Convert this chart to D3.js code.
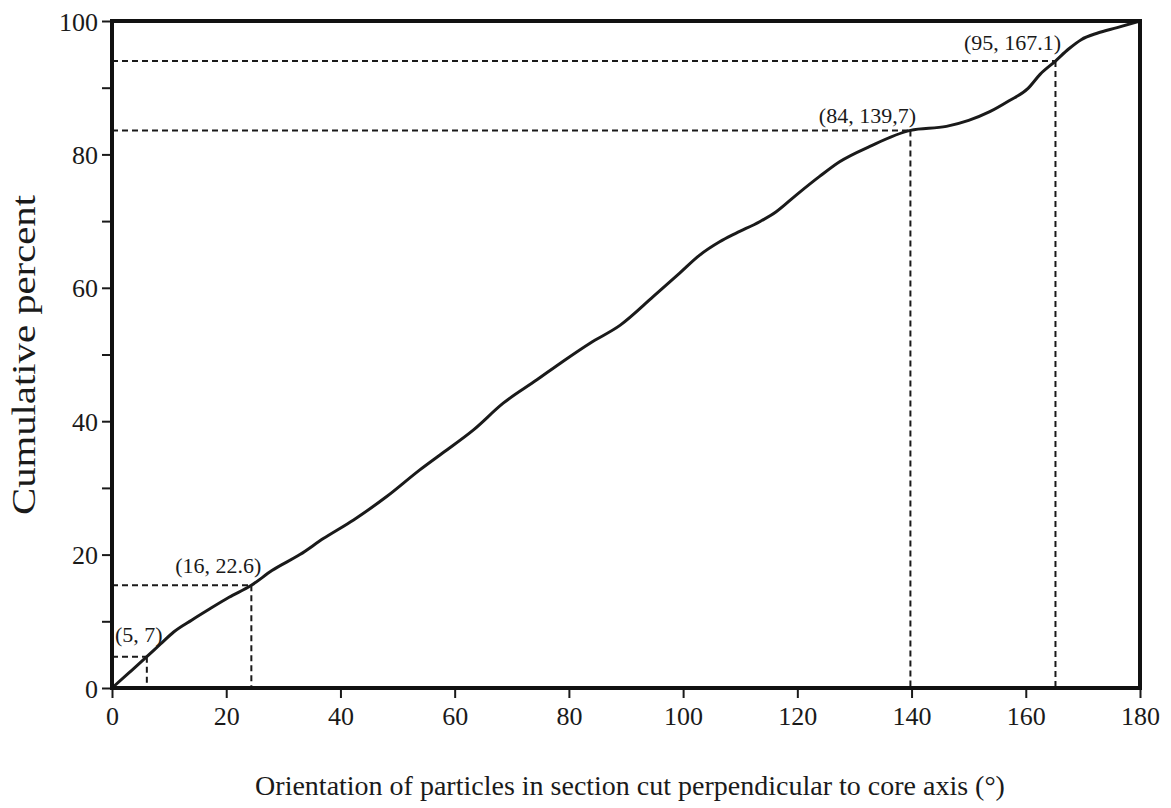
<!DOCTYPE html>
<html>
<head>
<meta charset="utf-8">
<script src="https://cdn.jsdelivr.net/npm/d3@7"></script>
<style>
  body { margin: 0; background: #fff; }
  text { font-family: "Liberation Serif", "Times New Roman", serif; fill: #1a1a1a; }
</style>
</head>
<body>
<svg id="chart"></svg>
<script>
// orientation (deg) vs cumulative percent
var angle = [0, 3, 6.1, 8.5, 10.8, 14, 17, 20.5, 24.4, 28, 32.9, 37, 42.3, 48.1, 53.9, 58, 63.3, 68.5, 74.4, 79, 83.7, 89,
             94.8, 99.4, 102.9, 106.4, 109.3, 113.4, 116.3, 119.8, 123.9, 127.4, 132.7, 139.8, 146.1, 150, 153.7, 157,
             160.4, 162.5, 165.2, 167.5, 169.7, 172.6, 176, 180];
var cumPct = [0, 2.3, 4.7, 6.6, 8.4, 10.2, 11.8, 13.6, 15.4, 17.6, 20.0, 22.4, 25.2, 28.7, 32.7, 35.3, 38.7, 42.7, 46.2, 49, 51.7, 54.4,
              58.7, 62.2, 64.9, 66.9, 68.2, 69.9, 71.4, 73.9, 76.7, 78.9, 81.2, 83.6, 84.2, 85.1, 86.4, 88.0,
              89.9, 92, 94.0, 95.8, 97.2, 98.2, 99, 100];

// marked percentiles
var markX = [6.1, 24.4, 139.8, 165.2];
var markY = [4.7, 15.4, 83.6, 94.0];
var markLabels = ["(5, 7)", "(16, 22.6)", "(84, 139,7)", "(95, 167.1)"];

var xTicks = [0, 20, 40, 60, 80, 100, 120, 140, 160, 180];
var yTicks = [0, 20, 40, 60, 80, 100];
var yMinor = [10, 30, 50, 70, 90];

var W = 1171, H = 808;
var margin = { top: 21, right: 31, bottom: 120, left: 112 };
var width = W - margin.left - margin.right,
    height = H - margin.top - margin.bottom;

var svg = d3.select("#chart")
            .attr("width", W)
            .attr("height", H);

var g = svg.append("g")
           .attr("transform", "translate(" + margin.left + "," + margin.top + ")");

var x = d3.scaleLinear().domain([0, 180]).range([0, width]);
var y = d3.scaleLinear().domain([0, 100]).range([height, 0]);

// axes
var xAxis = g.append("g")
    .attr("transform", "translate(0," + height + ")")
    .call(d3.axisBottom(x).tickValues(xTicks).tickSize(10).tickPadding(5).tickFormat(d3.format("d")));
var yAxis = g.append("g")
    .call(d3.axisLeft(y).tickValues(yTicks).tickSize(10).tickPadding(4).tickFormat(d3.format("d")));
g.append("g")
    .call(d3.axisLeft(y).tickValues(yMinor).tickSize(10).tickFormat(""));

g.selectAll(".domain").remove();
g.selectAll(".tick line").attr("stroke", "#1a1a1a").attr("stroke-width", 2);
g.selectAll(".tick text")
  .style("font-size", "26px")
  .attr("fill", "#1a1a1a");
xAxis.selectAll(".tick text").attr("dy", "0.85em");
yAxis.selectAll(".tick text").attr("dy", "0.35em");

// reference lines
var dashes = g.append("g");
markX.forEach(function (mx, i) {
  var my = markY[i];
  dashes.append("line")
    .attr("x1", x(0)).attr("x2", x(mx))
    .attr("y1", y(my)).attr("y2", y(my));
  dashes.append("line")
    .attr("x1", x(mx)).attr("x2", x(mx))
    .attr("y1", y(my)).attr("y2", y(0));
});
dashes.selectAll("line")
  .attr("stroke", "#1a1a1a")
  .attr("stroke-width", 2)
  .attr("stroke-dasharray", "6,4");

// curve
var line = d3.line()
  .x(function (d, i) { return x(angle[i]); })
  .y(function (d, i) { return y(cumPct[i]); })
  .curve(d3.curveMonotoneX);

g.append("path")
  .datum(angle)
  .attr("fill", "none")
  .attr("stroke", "#1a1a1a")
  .attr("stroke-width", 3)
  .attr("stroke-linejoin", "round")
  .attr("d", line);

// labels, offset from the corner of each dashed line
var labelDx = [-8, -33, -43, -43];
var labelDy = [-15, -12, -7, -11];
markLabels.forEach(function (t, i) {
  g.append("text")
    .attr("x", x(markX[i]) + labelDx[i])
    .attr("y", y(markY[i]) + labelDy[i])
    .attr("text-anchor", "middle")
    .style("font-size", "22px")
    .text(t);
});

// frame
g.append("rect")
  .attr("x", 0).attr("y", 0)
  .attr("width", width).attr("height", height)
  .attr("fill", "none")
  .attr("stroke", "#111")
  .attr("stroke-width", 4);

// axis titles
svg.append("text")
  .attr("transform", "translate(35,355) rotate(-90)")
  .attr("text-anchor", "middle")
  .attr("textLength", 320)
  .attr("lengthAdjust", "spacingAndGlyphs")
  .style("font-size", "33px")
  .text("Cumulative percent");

svg.append("text")
  .attr("x", margin.left + width / 2 + 4)
  .attr("y", 795)
  .attr("text-anchor", "middle")
  .style("font-size", "28px")
  .text("Orientation of particles in section cut perpendicular to core axis (\u00B0)");
</script>
</body>
</html>
